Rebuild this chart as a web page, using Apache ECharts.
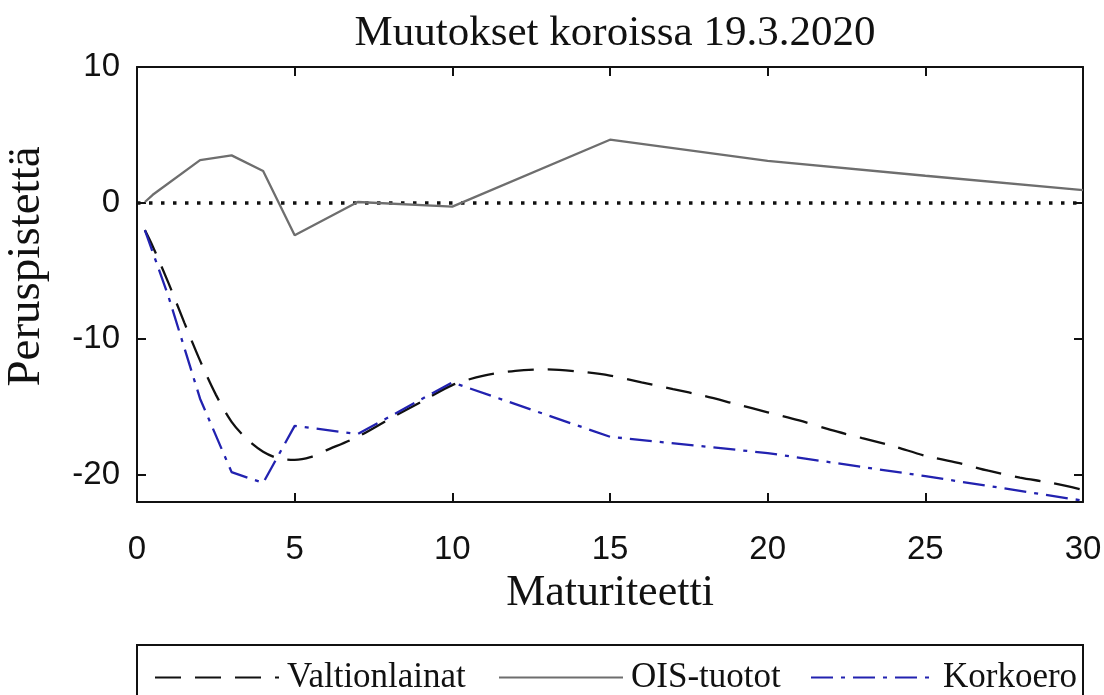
<!DOCTYPE html>
<html>
<head>
<meta charset="utf-8">
<script src="https://cdn.jsdelivr.net/npm/echarts@6/dist/echarts.min.js"></script>
<style>
html,body{margin:0;padding:0;background:#fff;}
#chart{width:1104px;height:695px;}
</style>
</head>
<body>
<div id="chart"></div>
<script>
// ---- Data ----
const titleText = 'Muutokset koroissa 19.3.2020';
const xName = 'Maturiteetti';
const yName = 'Peruspistettä';
const xTicks = [0, 5, 10, 15, 20, 25, 30];
const yTicks = [-20, -10, 0, 10];

const valtX = [0.25,0.5,1,1.5,2,2.5,3,3.5,4,4.5,5,5.5,6,7,8,9,10,11,12,13,14,15,16,17,18,19,20,21,22,23,24,25,26,27,28,29,30];
const valtY = [-2.0,-3.2,-5.9,-8.8,-11.6,-14.1,-16.1,-17.4,-18.3,-18.8,-18.9,-18.7,-18.2,-17.2,-15.9,-14.65,-13.4,-12.7,-12.35,-12.25,-12.4,-12.7,-13.2,-13.7,-14.2,-14.8,-15.4,-16.0,-16.7,-17.3,-17.9,-18.6,-19.1,-19.7,-20.2,-20.6,-21.1];

const oisX = [0.25,0.5,2,3,4,5,7,10,15,20,25,30];
const oisY = [0.07,0.6,3.15,3.5,2.35,-2.37,0.07,-0.27,4.65,3.1,2.0,0.95];

const korkX = [0.25,1,2,3,4,5,7,10,15,20,25,30];
const korkY = [-2.0,-6.9,-14.4,-19.8,-20.6,-16.4,-17.0,-13.2,-17.2,-18.4,-20.1,-21.9];

const zeroX = [0, 30];
const zeroY = [0, 0];

const seriesNames = ['Valtionlainat', 'OIS-tuotot', 'Korkoero'];

function pairs(xs, ys){ return xs.map((x,i)=>[x, ys[i]]); }

const chart = echarts.init(document.getElementById('chart'), null, {renderer:'canvas'});
const serif = 'Liberation Serif';
const sans = 'Liberation Sans';

function legendFor(name, left){
  return {
    data:[name], left:left, top:655, orient:'horizontal',
    itemWidth:124, itemHeight:14, selectedMode:false,
    itemStyle:{opacity:0},
    textStyle:{fontFamily:serif, fontSize:35, color:'#111', lineHeight:34, padding:[0,0,0,3]}
  };
}

chart.setOption({
  animation:false,
  backgroundColor:'#fff',
  title:{text:titleText, left:610, textAlign:'center', top:7,
    textStyle:{fontFamily:serif, fontWeight:'normal', fontSize:43, color:'#111'}},
  grid:{left:137, right:21, top:67, bottom:193, containLabel:false, outerBoundsMode:'none'},
  legend:[legendFor(seriesNames[0],149), legendFor(seriesNames[1],493), legendFor(seriesNames[2],805)],
  graphic:[{type:'rect', shape:{x:137, y:645, width:946, height:70},
    style:{fill:'none', stroke:'#111', lineWidth:2}, z:-1}],
  xAxis:[{
    type:'value', min:0, max:30, interval:5, position:'bottom',
    name:xName, nameLocation:'middle', nameGap:60,
    nameTextStyle:{fontFamily:serif, fontSize:44, color:'#111'},
    axisLine:{show:true, onZero:false, lineStyle:{color:'#111', width:2}},
    axisTick:{show:true, inside:true, length:9, lineStyle:{color:'#111', width:2}},
    axisLabel:{fontFamily:sans, fontSize:33, color:'#111', margin:31, lineHeight:34},
    splitLine:{show:false}
  },{
    type:'value', min:0, max:30, interval:5, position:'top',
    axisLine:{show:true, onZero:false, lineStyle:{color:'#111', width:2}},
    axisTick:{show:true, inside:true, length:9, lineStyle:{color:'#111', width:2}},
    axisLabel:{show:false}, splitLine:{show:false}
  }],
  yAxis:[{
    type:'value', min:-22, max:10, position:'left',
    name:yName, nameLocation:'middle', nameGap:87, nameRotate:90,
    nameTextStyle:{fontFamily:serif, fontSize:47, color:'#111', padding:[0,0,0,36]},
    axisLine:{show:true, onZero:false, lineStyle:{color:'#111', width:2}},
    axisTick:{show:true, inside:true, length:9, customValues:yTicks, lineStyle:{color:'#111', width:2}},
    axisLabel:{fontFamily:sans, fontSize:33, color:'#111', margin:17, customValues:yTicks},
    splitLine:{show:false}
  },{
    type:'value', min:-22, max:10, position:'right',
    axisLine:{show:true, onZero:false, lineStyle:{color:'#111', width:2}},
    axisTick:{show:true, inside:true, length:9, customValues:yTicks, lineStyle:{color:'#111', width:2}},
    axisLabel:{show:false}, splitLine:{show:false}
  }],
  series:[
    {name:seriesNames[0], type:'line', data:pairs(valtX, valtY), smooth:0.3, symbol:'none',
      lineStyle:{color:'#111', width:2.3, type:[26,14]}, itemStyle:{color:'#111'}},
    {name:seriesNames[1], type:'line', data:pairs(oisX, oisY), symbol:'none',
      lineStyle:{color:'#6e6e6e', width:2.3, type:'solid'}, itemStyle:{color:'#6e6e6e'}},
    {name:seriesNames[2], type:'line', data:pairs(korkX, korkY), symbol:'none',
      lineStyle:{color:'#2222b0', width:2.3, type:[22,8,4,8]}, itemStyle:{color:'#2222b0'}},
    {name:'zero', type:'line', data:pairs(zeroX, zeroY), symbol:'none', silent:true,
      lineStyle:{color:'#111', width:3.5, type:[3.5,8.5]}, z:1}
  ]
});
</script>
</body>
</html>
